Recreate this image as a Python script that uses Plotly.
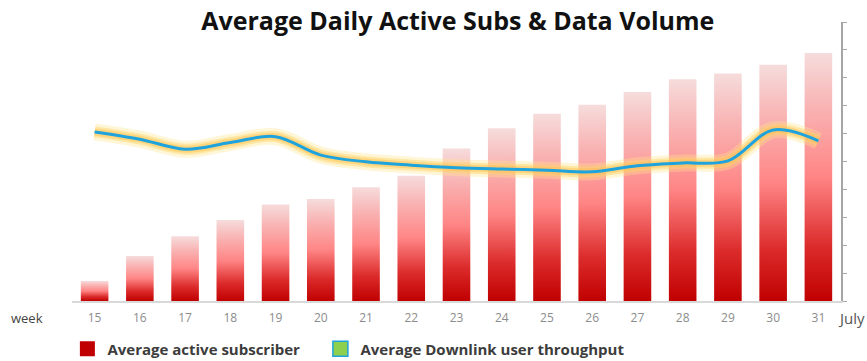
import plotly.graph_objects as go

# Weekly figures
weeks = ["15", "16", "17", "18", "19", "20", "21", "22", "23",
         "24", "25", "26", "27", "28", "29", "30", "31"]
active_subscribers = [0.72, 1.61, 2.32, 2.90, 3.46, 3.66, 4.08, 4.49, 5.47,
                      6.19, 6.71, 7.03, 7.49, 7.95, 8.15, 8.47, 8.89]
dl_throughput = [6.06, 5.80, 5.44, 5.68, 5.89, 5.23, 4.99, 4.87, 4.78,
                 4.73, 4.69, 4.63, 4.85, 4.95, 5.02, 6.13, 5.74]

BAR_WIDTH = 0.61
bar_scale = [[0.0, "#c00000"], [0.22, "#dc2b2b"], [0.5, "#ff8585"],
             [0.78, "#f9b3b3"], [1.0, "#f6dcdc"]]

fig = go.Figure()

# Gradient bars: each bar is a filled column on the numeric week axis
for i, v in enumerate(active_subscribers):
    x0, x1 = i - BAR_WIDTH / 2, i + BAR_WIDTH / 2
    fig.add_trace(go.Scatter(
        x=[x0, x1, x1, x0, x0], y=[0, 0, v, v, 0],
        mode="lines", fill="toself",
        fillgradient=dict(type="vertical", colorscale=bar_scale),
        line=dict(width=0), hoverinfo="skip", showlegend=False,
    ))

xs = list(range(len(weeks)))

# Soft glow under the throughput line
for width, color in [(17, "rgba(255,228,140,0.35)"),
                     (11, "rgba(255,212,100,0.45)"),
                     (7, "rgba(255,190,80,0.45)")]:
    fig.add_trace(go.Scatter(
        x=xs, y=dl_throughput, mode="lines",
        line=dict(color=color, width=width, shape="spline", smoothing=1),
        hoverinfo="skip", showlegend=False,
    ))
fig.add_trace(go.Scatter(
    x=xs, y=dl_throughput, mode="lines",
    line=dict(color="#1ea3dd", width=3, shape="spline", smoothing=1),
    showlegend=False,
))

# Legend entries (one legend box each, side by side)
fig.add_trace(go.Scatter(
    x=[None], y=[None], mode="markers", name="<b>Average active subscriber</b>",
    marker=dict(symbol="square", size=15, color="#c00000"), legend="legend",
))
fig.add_trace(go.Scatter(
    x=[None], y=[None], mode="markers",
    name="<b>Average Downlink user throughput</b>",
    marker=dict(symbol="square", size=15, color="#8dcf4f",
                line=dict(color="#1ea3dd", width=1.5)),
    legend="legend2",
))

legend_style = dict(orientation="h", xanchor="left", y=-0.172,
                    yanchor="middle", font=dict(size=15, color="#3c3c3c"),
                    bgcolor="rgba(0,0,0,0)")

fig.update_layout(
    width=867, height=361,
    margin=dict(l=72, r=26, t=22, b=60, autoexpand=False),
    paper_bgcolor="white", plot_bgcolor="white",
    font=dict(family="Open Sans", color="#444444"),
    title=dict(text="<b>Average Daily Active Subs & Data Volume</b>",
               x=0.528, xanchor="center", y=0.942, yanchor="middle",
               yref="container", font=dict(size=25, color="#111111")),
    showlegend=True,
    legend=dict(x=-0.006, **legend_style),
    legend2=dict(x=0.323, **legend_style),
    xaxis=dict(range=[-0.5, len(weeks) - 0.5], tickvals=xs, ticktext=weeks,
               showline=True, linecolor="#d9d9d9", linewidth=1.5,
               showgrid=False, zeroline=False, ticks="",
               tickfont=dict(size=12, color="#8c8c8c"), ticklabelstandoff=5),
    yaxis=dict(range=[0, 10], dtick=1, side="right", showline=True,
               linecolor="#a6a6a6", linewidth=1.5, ticks="outside",
               ticklen=4, tickcolor="#a6a6a6", showticklabels=False,
               showgrid=False, zeroline=False),
    annotations=[
        dict(text="week", xref="paper", yref="paper", x=-0.058, y=-0.061,
             xanchor="center", yanchor="middle",
             showarrow=False, font=dict(size=13, color="#444444")),
        dict(text="July", xref="paper", yref="paper", x=1.014, y=-0.061,
             xanchor="center", yanchor="middle",
             showarrow=False, font=dict(size=15, color="#555555")),
    ],
)

fig.write_html("out.html")
